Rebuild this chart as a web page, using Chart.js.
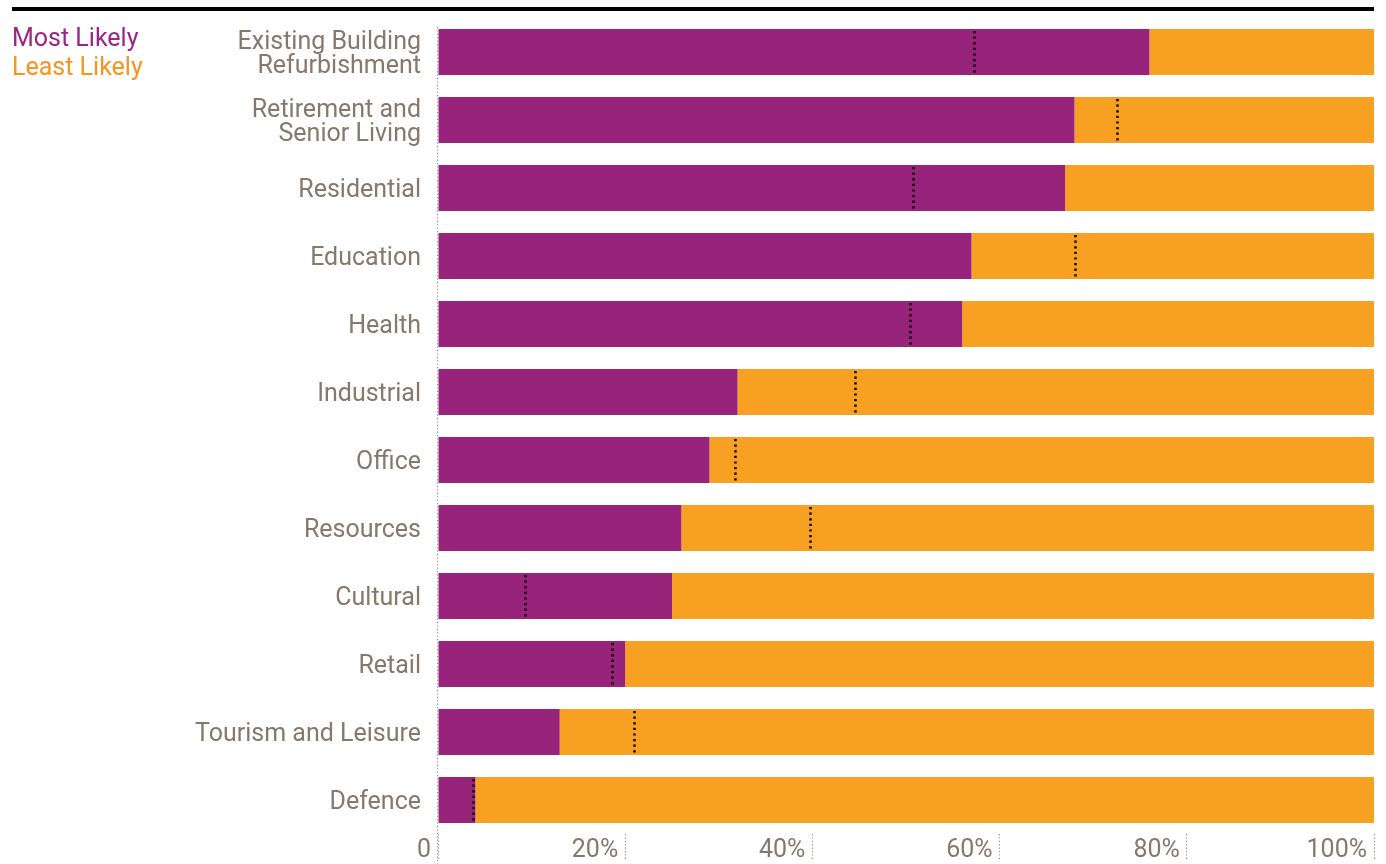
<!DOCTYPE html>
<html>
<head>
<meta charset="utf-8">
<script src="https://cdn.jsdelivr.net/npm/chart.js@4/dist/chart.umd.min.js"></script>
<style>
  html, body { margin: 0; padding: 0; background: #fff; }
  #wrap { width: 1386px; height: 864px; position: relative; }
</style>
</head>
<body>
<div id="wrap"><canvas id="sectorChart" width="1386" height="864"></canvas></div>
<script>
const sectors = [
    ['Existing Building', 'Refurbishment'],
    ['Retirement and', 'Senior Living'],
    'Residential',
    'Education',
    'Health',
    'Industrial',
    'Office',
    'Resources',
    'Cultural',
    'Retail',
    'Tourism and Leisure',
    'Defence'
];
const mostLikely = [76, 68, 67, 57, 56, 32, 29, 26, 25, 20, 13, 4];
const leastLikely = [24, 32, 33, 43, 44, 68, 71, 74, 75, 80, 87, 96];
// dotted markers (previous survey)
const previousMost = [57.3, 72.5, 50.7, 68.1, 50.4, 44.6, 31.7, 39.7, 9.3, 18.6, 20.9, 3.7];
const xTicks = [0, 20, 40, 60, 80, 100];

const purple = '#98237b';
const orange = '#f8a022';
const taupe = '#86786a';
const fontFamily = 'Roboto, "Liberation Sans", sans-serif';
const fontSize = 25;

const markerPlugin = {
    id: 'markers',
    afterDatasetsDraw(chart) {
        const ctx = chart.ctx;
        const x = chart.scales.x;
        const meta = chart.getDatasetMeta(0);
        ctx.save();
        ctx.strokeStyle = '#000';
        ctx.lineWidth = 2.5;
        ctx.setLineDash([2.2, 3.4]);
        previousMost.forEach((v, i) => {
            const bar = meta.data[i];
            const px = Math.round(x.getPixelForValue(v)) + 0.5;
            ctx.beginPath();
            ctx.moveTo(px, bar.y - bar.height / 2 + 2);
            ctx.lineTo(px, bar.y + bar.height / 2);
            ctx.stroke();
        });
        ctx.restore();
    }
};

const decorPlugin = {
    id: 'decor',
    beforeDraw(chart) {
        const ctx = chart.ctx;
        ctx.save();
        // heavy top rule
        ctx.fillStyle = '#000';
        ctx.fillRect(12, 7, chart.chartArea.right - 12, 4);
        // legend as coloured text
        ctx.font = fontSize + 'px ' + fontFamily;
        ctx.textBaseline = 'middle';
        ctx.textAlign = 'left';
        chart.data.datasets.forEach((ds, i) => {
            ctx.fillStyle = ds.legendColor;
            ctx.fillText(ds.label, 12, 40 + i * 29);
        });
        ctx.restore();
    },
    afterDatasetsDraw(chart) {
        // dotted zero line, from the first bar down to the bottom edge
        const ctx = chart.ctx;
        const first = chart.getDatasetMeta(0).data[0];
        const x0 = Math.round(chart.scales.x.getPixelForValue(0)) - 0.5;
        ctx.save();
        ctx.strokeStyle = '#8f8f8f';
        ctx.lineWidth = 1.2;
        ctx.setLineDash([1.2, 2.2]);
        ctx.beginPath();
        ctx.moveTo(x0, first.y - first.height / 2 - 2);
        ctx.lineTo(x0, chart.height);
        ctx.stroke();
        ctx.restore();
    }
};

function noPadding(scale) {
    scale.paddingTop = 0;
    scale.paddingBottom = 0;
    scale.paddingLeft = 0;
    scale.paddingRight = 0;
}

const ctx = document.getElementById('sectorChart').getContext('2d');
new Chart(ctx, {
    type: 'bar',
    data: {
        labels: sectors,
        datasets: [
            { label: 'Most Likely', data: mostLikely, backgroundColor: purple, legendColor: '#9b2485' },
            { label: 'Least Likely', data: leastLikely, backgroundColor: orange, legendColor: '#f7931e' }
        ]
    },
    options: {
        indexAxis: 'y',
        responsive: false,
        animation: false,
        devicePixelRatio: 1,
        layout: { padding: { top: 18, right: 12, left: 0, bottom: 0 } },
        datasets: { bar: { categoryPercentage: 0.676, barPercentage: 1.0 } },
        plugins: {
            legend: { display: false },
            tooltip: { enabled: false }
        },
        scales: {
            x: {
                stacked: true,
                min: 0,
                max: 100,
                afterBuildTicks: (scale) => { scale.ticks = xTicks.map(v => ({ value: v })); },
                border: { display: false },
                grid: {
                    drawOnChartArea: false,
                    drawTicks: true,
                    tickLength: 27,
                    tickColor: '#8f8f8f',
                    tickWidth: 1.2,
                    tickBorderDash: [1.2, 2.2]
                },
                ticks: {
                    align: 'end',
                    padding: -25,
                    labelOffset: -7,
                    color: taupe,
                    font: { family: fontFamily, size: fontSize },
                    callback: (v) => v === 0 ? '0' : v + '%'
                },
                afterFit: (scale) => { scale.height = 30; noPadding(scale); }
            },
            y: {
                stacked: true,
                border: { display: false },
                grid: { display: false, drawTicks: false },
                ticks: {
                    padding: 17,
                    labelOffset: 3,
                    color: taupe,
                    font: { family: fontFamily, size: fontSize, lineHeight: 0.96 }
                },
                afterFit: (scale) => { scale.width = 438; noPadding(scale); }
            }
        }
    },
    plugins: [decorPlugin, markerPlugin]
});
</script>
</body>
</html>
